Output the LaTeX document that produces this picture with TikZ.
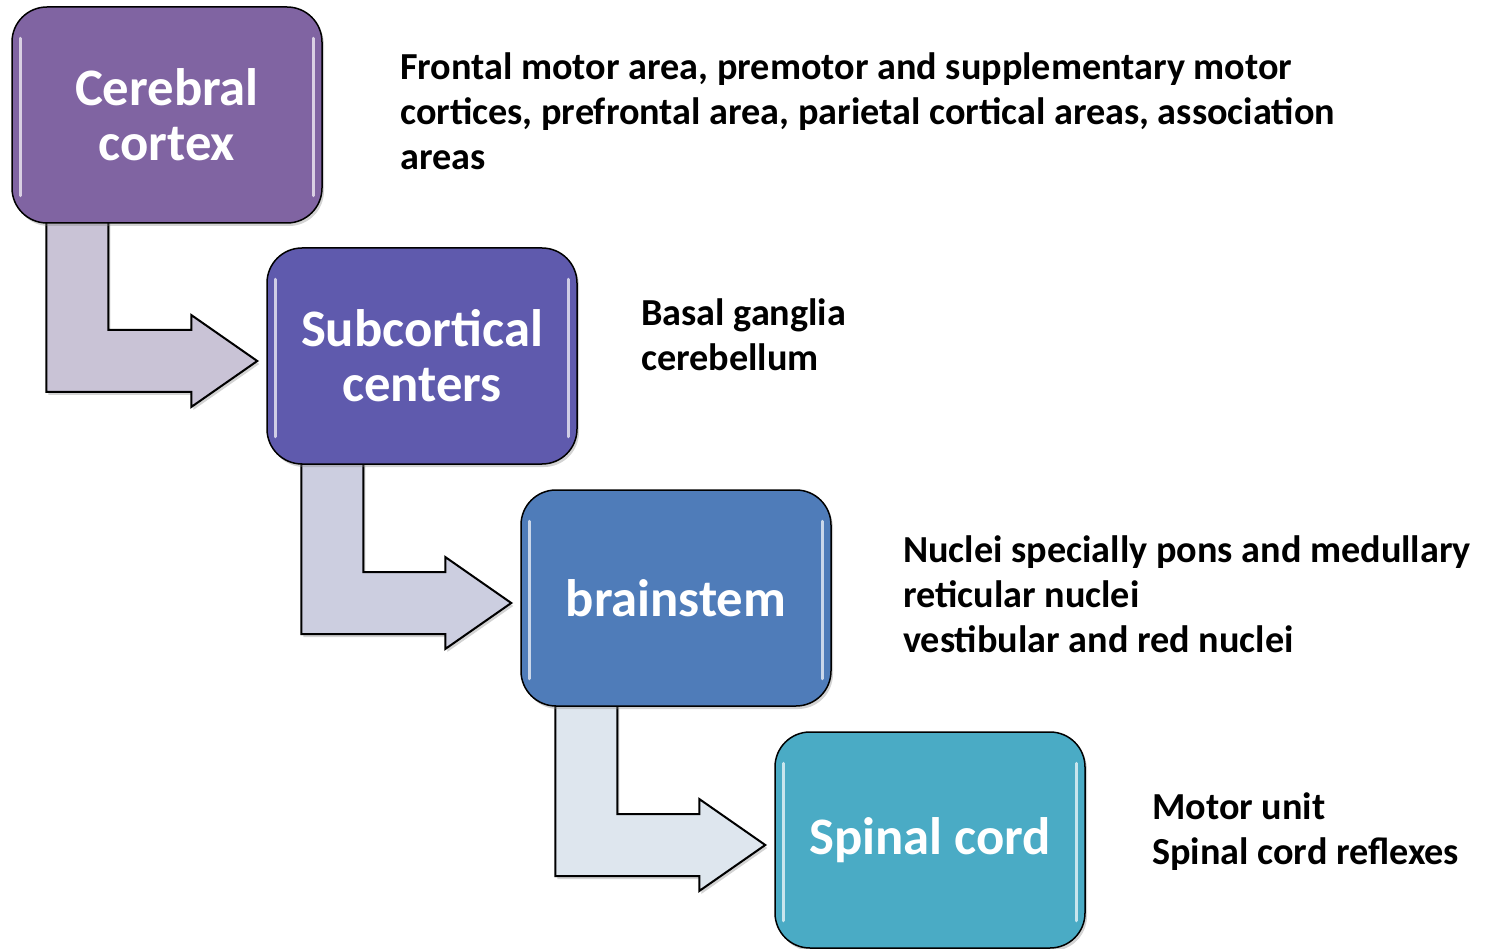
\documentclass[tikz,border=0pt]{standalone}
\usepackage{fontspec}
\setmainfont{Carlito}
\usetikzlibrary{calc,shadows,backgrounds}
\definecolor{c1}{RGB}{128,100,162}
\definecolor{c2}{RGB}{95,90,173}
\definecolor{c3}{RGB}{79,124,185}
\definecolor{c4}{RGB}{74,171,197}
\definecolor{a1}{RGB}{201,195,214}
\definecolor{a2}{RGB}{204,206,224}
\definecolor{a3}{RGB}{222,230,238}
\tikzset{
  stagebox/.style={draw=black, line width=1.5pt, rounded corners=35pt,
    minimum width=310pt, minimum height=216pt, inner sep=0pt, align=center,
    text=white, font=\fontsize{52.7}{55}\selectfont\bfseries,
    drop shadow={opacity=0.35, shadow xshift=2pt, shadow yshift=-3pt}},
  hl/.style={white, line width=3pt, line cap=round, opacity=0.7},
  elbowarrow/.style={draw=black, line width=2pt, line join=miter,
    drop shadow={opacity=0.35, shadow xshift=2pt, shadow yshift=-3pt}},
  info/.style={anchor=base west, inner sep=0pt, align=left,
    font=\fontsize{38.2}{45}\selectfont\bfseries, text=black},
}
\begin{document}
\begin{tikzpicture}[x=1pt,y=-1pt]
\useasboundingbox (0,0) rectangle (1486,949);
% stages
\node[stagebox, fill=c1] (b1) at (167,115) {Cerebral\\cortex};
\node[stagebox, fill=c2] (b2) at (422,356) {Subcortical\\centers};
\node[stagebox, fill=c3] (b3) at (676,598) {brainstem};
\node[stagebox, fill=c4] (b4) at (930,840) {Spinal cord};
% glossy highlights
\foreach \b in {b1,b2,b3,b4}{
  \draw[hl] ([xshift=9pt,yshift=-32pt]\b.north west) -- ([xshift=9pt,yshift=28pt]\b.south west);
  \draw[hl] ([xshift=-9pt,yshift=-32pt]\b.north east) -- ([xshift=-9pt,yshift=28pt]\b.south east);
}
% bent arrows
\begin{scope}[on background layer]
\foreach \s/\t/\c in {b1/b2/a1, b2/b3/a2, b3/b4/a3}{
  \path[elbowarrow, fill=\c] let \p1=(\s.south west), \p2=(\t.west) in
    (\x1+35,\y1+6) -- (\x1+97,\y1+6) -- (\x1+97,\y2+26) -- (\x2-75,\y2+26)
    -- (\x2-75,\y2+41) -- (\x2-9,\y2-5) -- (\x2-75,\y2-51) -- (\x2-75,\y2-36)
    -- (\x1+35,\y2-36) -- cycle;
}
\end{scope}
% descriptions (anchor = baseline of last line)
\node[info] (t1) at (400,170) {Frontal motor area, premotor and supplementary motor\\cortices, prefrontal area, parietal cortical areas, association\\areas};
\node[info] (t2) at (641,371) {Basal ganglia\\cerebellum};
\node[info] (t3) at (903,652) {Nuclei specially pons and medullary\\reticular nuclei\\vestibular and red nuclei};
\node[info] (t4) at (1152,864) {Motor unit\\Spinal cord reflexes};
\end{tikzpicture}
\end{document}
